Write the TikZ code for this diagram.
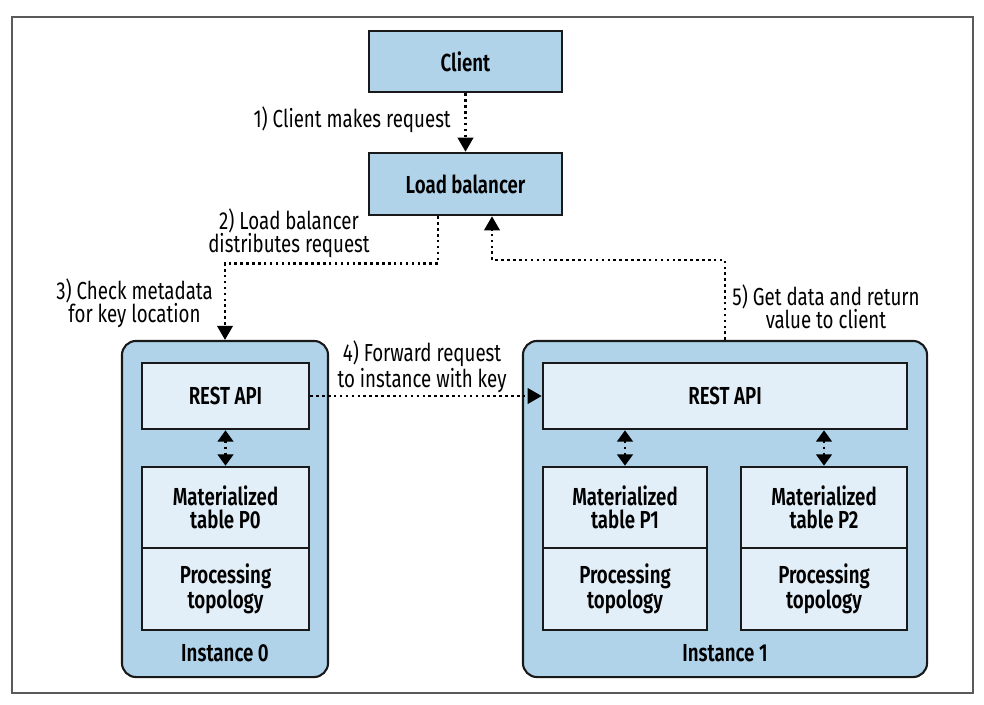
\documentclass[tikz,border=0pt]{standalone}
\usepackage{fontspec}
\setmainfont{Fira Sans}[FakeStretch=0.76, BoldFont={Fira Sans SemiBold}]
\usetikzlibrary{arrows.meta, calc}
\definecolor{boxblue}{HTML}{B0D3EA}
\definecolor{paneblue}{HTML}{E3EFF8}
\definecolor{framegray}{HTML}{5A5A5A}

\begin{document}
\begin{tikzpicture}[x=0.025cm, y=-0.025cm, font=\fontsize{17.5}{16.2}\selectfont,
  box/.style={draw=black!90, line width=1.8pt, fill=boxblue, minimum width=4.825cm, minimum height=1.525cm, font=\fontsize{17.5}{16.2}\selectfont\bfseries},
  inst/.style={draw=black!90, line width=1.5pt, fill=boxblue, rounded corners=10pt, minimum height=8.4cm},
  pane/.style={draw=black!90, line width=1.8pt, fill=paneblue, align=center, inner sep=0pt, font=\fontsize{17.5}{16.2}\selectfont\bfseries},
  instlabel/.style={font=\fontsize{17.5}{16.2}\selectfont\bfseries, inner sep=0pt},
  lbl/.style={align=center, inner sep=0pt},
  flow/.style={line width=1.8pt, dash pattern=on 1.8pt off 2.4pt, -{Triangle[length=10pt, width=11pt]}},
  both/.style={flow, {Triangle[length=8pt, width=11pt]}-{Triangle[length=8pt, width=11pt]}}]

\useasboundingbox (0,0) rectangle (984,704);
\draw [framegray, line width=1.2pt] (12,17) rectangle (973,693);

\node (client) [box] at (465.5,61.5) {Client};
\node (lb) [box, minimum height=1.55cm] at (465.5,184) {Load balancer};

% instance 0
\node (inst0) [inst, minimum width=5.15cm] at (225,509) {};
\node (rest0) [pane, minimum width=4.175cm, minimum height=1.65cm] at (225.5,396) {REST API};
\node (mat0) [pane, minimum width=4.175cm, minimum height=2.025cm] at (225.5,507.5) {Materialized\\table P0};
\node (proc0) [pane, minimum width=4.175cm, minimum height=2.05cm] at (225.5,589) {Processing\\topology};
\node (name0) [instlabel] at (225,653) {Instance 0};

% instance 1
\node (inst1) [inst, minimum width=10.1cm] at (725,509) {};
\node (rest1) [pane, minimum width=9.1cm, minimum height=1.65cm] at (725,396) {REST API};
\node (mat1) [pane, minimum width=4.1cm, minimum height=2.025cm] at (625,507.5) {Materialized\\table P1};
\node (proc1) [pane, minimum width=4.1cm, minimum height=2.05cm] at (625,589) {Processing\\topology};
\node (mat2) [pane, minimum width=4.15cm, minimum height=2.025cm] at (824,507.5) {Materialized\\table P2};
\node (proc2) [pane, minimum width=4.15cm, minimum height=2.05cm] at (824,589) {Processing\\topology};
\node (name1) [instlabel] at (725,653) {Instance 1};

\node (step1) [lbl, anchor=base east] at (451,127) {1) Client makes request};
\node (step2) [lbl] at (289,233) {2) Load balancer\\distributes request};
\node (step3) [lbl] at (134.5,303) {3) Check metadata\\for key location};
\node (step4) [lbl] at (422,367) {4) Forward request\\to instance with key};
\node (step5) [lbl] at (826,306.5) {5) Get data and return\\value to client};

\draw [flow] (client) -- (lb);
\draw [flow] ($(lb.south)+(-27.5,0)$) -- ++(0,47) -| (inst0.north);
\draw [flow] (rest0) -- (rest1);
\draw [flow] (inst1.north) -- ++(0,-80) -| ($(lb.south)+(26.5,0)$);
\draw [both] (rest0) -- (mat0);
\draw [both] (rest1.south -| mat1.north) -- (mat1);
\draw [both] (rest1.south -| mat2.north) -- (mat2);

\end{tikzpicture}
\end{document}
